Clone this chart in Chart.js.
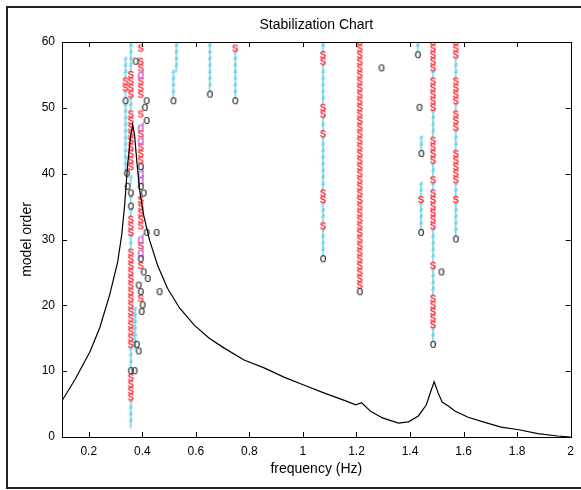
<!DOCTYPE html>
<html>
<head>
<meta charset="utf-8">
<script src="https://cdn.jsdelivr.net/npm/chart.js@4.4.1/dist/chart.umd.min.js"></script>
<style>
  html, body { margin: 0; padding: 0; background: #fff; }
  canvas { display: block; }
</style>
</head>
<body>
<canvas id="stabChart" width="581" height="490"></canvas>
<script>
// pole tracks: frequency (Hz), lowest model order, one marker code per order
// f = stable frequency, s = stable, d = stable damping, o = new pole, . = none
const trackFreq  = [0.337, 0.357, 0.394, 0.373, 0.516, 0.527, 0.652, 0.747, 1.075, 1.212, 1.429, 1.442, 1.441, 1.486, 1.571];
const trackStart = [41, 2, 19, 14, 51, 56, 52, 51, 27, 22, 58, 43, 31, 14, 30];
const trackCodes = [
    'ffffffffffofssfff',
    'ffffssssofffsssssssssssssssffsssfofo.f.sssssssssffssssfffff',
    '..s....sodsd.sssss.oddosssdsd.s..sssdss.s',
    'ffffff',
    'offff',
    'fffff',
    'offffffff',
    'offfffffs',
    'offffsfffssffffffffsffssffffffssff',
    'ossssssssssssssssssssssssssssssssssssss',
    'off',
    'off',
    'offffsff',
    'offsssssffffsfffffssssssfsffssssffffsssssfsssss',
    'offfffsffsssssfffsssfssssfffsss'
];

// isolated new poles off the tracks
const loneFreq  = [0.375, 0.342, 0.345, 0.416, 0.409, 0.416, 0.416, 0.453, 0.405, 0.420, 0.405, 0.386, 0.394, 0.464, 0.401, 0.397, 0.379, 0.386, 0.371, 1.293, 1.435, 1.517];
const loneOrder = [57, 40, 38, 51, 50, 48, 31, 31, 37, 24, 25, 23, 22, 22, 20, 19, 14, 13, 10, 56, 50, 25];

// frequency response curve (scaled onto the model order axis)
const respFreq = [0.1, 0.148, 0.204, 0.241, 0.278, 0.308, 0.323, 0.334, 0.345, 0.357, 0.364, 0.371, 0.379, 0.39, 0.405, 0.427, 0.457, 0.494, 0.539, 0.594, 0.65, 0.706, 0.78, 0.855, 0.929, 1.003, 1.078, 1.152, 1.197, 1.219, 1.253, 1.297, 1.357, 1.394, 1.431, 1.461, 1.479, 1.49, 1.505, 1.52, 1.543, 1.569, 1.617, 1.673, 1.74, 1.807, 1.877, 1.952, 2.0];
const respAmp  = [5.5, 8.7, 12.9, 16.6, 21.6, 26.6, 30.7, 35.2, 41.3, 45.9, 47.4, 45.9, 42.1, 37.5, 33.7, 29.9, 26.1, 22.6, 19.6, 17.0, 15.0, 13.5, 11.7, 10.5, 9.1, 7.9, 6.7, 5.6, 4.9, 5.2, 3.9, 2.9, 2.1, 2.3, 3.2, 4.9, 7.1, 8.4, 6.7, 5.3, 4.7, 3.9, 3.0, 2.3, 1.5, 1.1, 0.5, 0.15, 0];

const xTicks = [0.2, 0.4, 0.6, 0.8, 1, 1.2, 1.4, 1.6, 1.8, 2];
const yTicks = [0, 10, 20, 30, 40, 50, 60];

const markerColors = { f: '#6fd0e4', s: '#ff1f2c', d: '#c960c9', o: '#111111' };
const FONT = '"Liberation Sans", Arial, sans-serif';

function glyph(ch, color) {
    const c = document.createElement('canvas');
    c.width = 14;
    c.height = 16;
    const g = c.getContext('2d');
    g.font = '12px ' + FONT;
    g.fillStyle = color;
    g.strokeStyle = color;
    g.lineWidth = 0.35;
    g.textAlign = 'center';
    g.textBaseline = 'alphabetic';
    // baseline so the x-height sits around the middle
    const by = ch === 'f' || ch === 'd' ? 12 : 11;
    g.fillText(ch, 7, by);
    if (ch !== 'o') g.strokeText(ch, 7, by);
    return c;
}

// collect markers per type
const points = { f: [], s: [], d: [], o: [] };
trackCodes.forEach((codes, t) => {
    for (let i = 0; i < codes.length; i++) {
        const ch = codes[i];
        if (points[ch]) points[ch].push({ x: trackFreq[t], y: trackStart[t] + i });
    }
});
loneFreq.forEach((f, i) => points.o.push({ x: f, y: loneOrder[i] }));

const markerSets = ['o', 'd', 's', 'f'].map(k => ({
    type: 'scatter',
    label: k,
    data: points[k],
    pointStyle: glyph(k, markerColors[k]),
    pointRadius: 5,
    pointHoverRadius: 5
}));

const frame = {
    id: 'frame',
    afterDraw(chart) {
        const ctx = chart.ctx;
        const a = chart.chartArea;
        const xs = chart.scales.x, ys = chart.scales.y;
        ctx.save();
        // outer figure frame
        ctx.strokeStyle = '#222';
        ctx.lineWidth = 2;
        ctx.strokeRect(7, 7, 620, 481);
        // axes box
        ctx.strokeStyle = '#000';
        ctx.lineWidth = 1;
        ctx.strokeRect(Math.round(a.left) + 0.5, Math.round(a.top) + 0.5, Math.round(a.right - a.left), Math.round(a.bottom - a.top));
        // inward ticks
        ctx.beginPath();
        xTicks.forEach(v => {
            const px = Math.round(xs.getPixelForValue(v)) + 0.5;
            ctx.moveTo(px, a.bottom); ctx.lineTo(px, a.bottom - 5);
            ctx.moveTo(px, a.top); ctx.lineTo(px, a.top + 5);
        });
        yTicks.forEach(v => {
            const py = Math.round(ys.getPixelForValue(v)) + 0.5;
            ctx.moveTo(a.left, py); ctx.lineTo(a.left + 5, py);
            ctx.moveTo(a.right, py); ctx.lineTo(a.right - 5, py);
        });
        ctx.stroke();
        // title and axis labels
        ctx.fillStyle = '#000';
        ctx.textAlign = 'center';
        ctx.textBaseline = 'middle';
        ctx.font = '14px ' + FONT;
        ctx.fillText('Stabilization Chart', (a.left + a.right) / 2, 25);
        ctx.fillText('frequency (Hz)', (a.left + a.right) / 2, 469);
        ctx.translate(27, (a.top + a.bottom) / 2);
        ctx.rotate(-Math.PI / 2);
        ctx.fillText('model order', 0, 0);
        ctx.restore();
    }
};

new Chart(document.getElementById('stabChart'), {
    type: 'scatter',
    data: {
        datasets: [{
            type: 'line',
            label: 'response',
            data: respFreq.map((f, i) => ({ x: f, y: respAmp[i] })),
            borderColor: '#000',
            borderWidth: 1.2,
            pointRadius: 0,
            tension: 0,
            fill: false
        }, ...markerSets]
    },
    options: {
        responsive: false,
        animation: false,
        devicePixelRatio: 1,
        layout: { padding: { top: 42, right: 9, left: 0, bottom: 0 } },
        plugins: {
            legend: { display: false },
            tooltip: { enabled: false }
        },
        scales: {
            x: {
                type: 'linear',
                min: 0.1,
                max: 2,
                grid: { display: false, drawTicks: false },
                border: { display: false },
                afterBuildTicks: scale => { scale.ticks = xTicks.map(v => ({ value: v })); },
                afterFit: scale => { scale.height = 53; },
                ticks: {
                    padding: 7,
                    color: '#000',
                    maxRotation: 0,
                    autoSkip: false,
                    font: { family: FONT, size: 12 },
                    callback: v => String(v)
                }
            },
            y: {
                type: 'linear',
                min: 0,
                max: 60,
                grid: { display: false, drawTicks: false },
                border: { display: false },
                afterBuildTicks: scale => { scale.ticks = yTicks.map(v => ({ value: v })); },
                afterFit: scale => { scale.width = 62; },
                ticks: {
                    padding: 7,
                    color: '#000',
                    font: { family: FONT, size: 12 },
                    callback: v => String(v)
                }
            }
        }
    },
    plugins: [frame]
});
</script>
</body>
</html>
